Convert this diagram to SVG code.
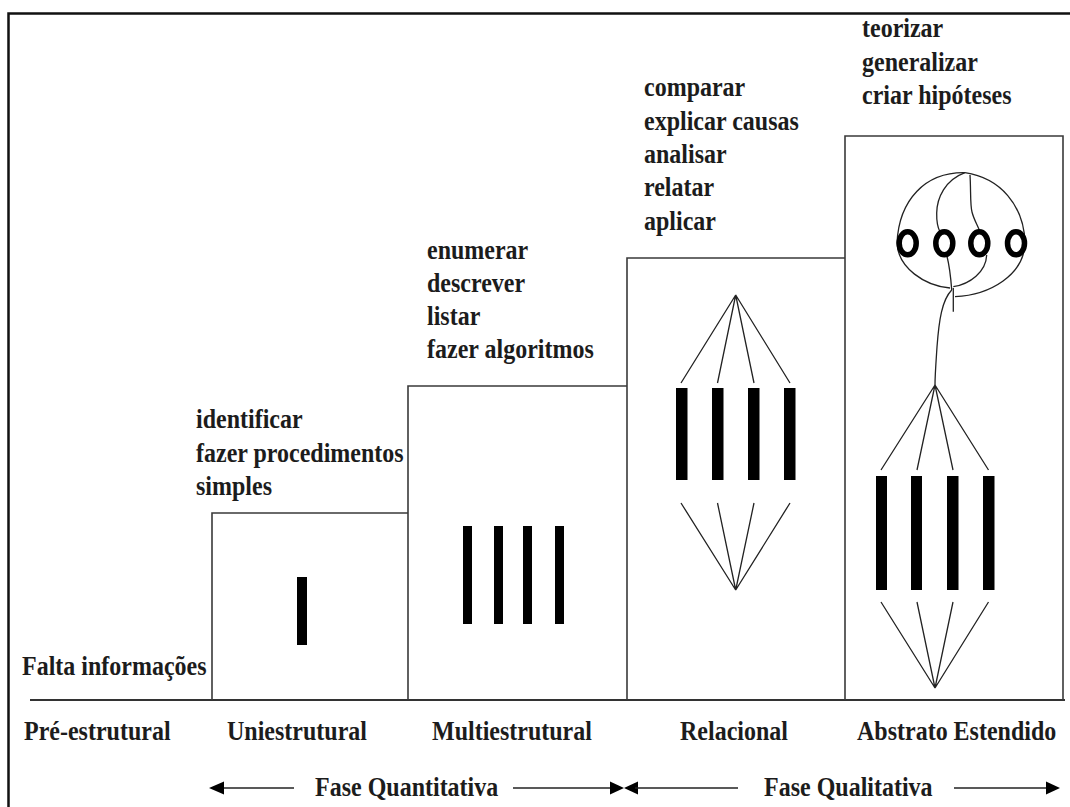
<svg xmlns="http://www.w3.org/2000/svg" width="1070" height="807" viewBox="0 0 1070 807">
<style>
text{font-family:"Liberation Serif","Times New Roman",serif;font-weight:bold;font-size:24px;fill:#1c1c1c}
.box{fill:none;stroke:#3a3a3a;stroke-width:1.6}
.bar{fill:#000}
.thin{fill:none;stroke:#222;stroke-width:1.3}
.ring{fill:none;stroke:#000;stroke-width:5.5}
.ax{stroke:#222;stroke-width:1.6;fill:none}
.ah{fill:#000}
</style>
<rect width="1070" height="807" fill="#fff"/>
<path d="M8.5,807 V13.5 H1070" fill="none" stroke="#111" stroke-width="2.5"/>

<g id="baseline"><line x1="30" y1="700" x2="1065" y2="700" stroke="#333" stroke-width="2"/></g>

<g id="pre-estrutural">
<text transform="translate(22,675) scale(1,1.1)">Falta informações</text>
<text transform="translate(24,740) scale(1,1.1)">Pré-estrutural</text>
</g>

<g id="uniestrutural">
<polyline class="box" points="212,700 212,513 408,513"/>
<rect class="bar" x="297" y="577" width="10" height="68"/>
<text transform="translate(196,428) scale(1,1.1)">identificar</text>
<text transform="translate(196,461.5) scale(1,1.1)">fazer procedimentos</text>
<text transform="translate(196,495) scale(1,1.1)">simples</text>
<text transform="translate(227,740) scale(1,1.1)">Uniestrutural</text>
</g>

<g id="multiestrutural">
<polyline class="box" points="408,700 408,386 627,386"/>
<rect class="bar" x="463" y="526" width="9" height="98"/>
<rect class="bar" x="494" y="526" width="9" height="98"/>
<rect class="bar" x="523" y="526" width="9" height="98"/>
<rect class="bar" x="555" y="526" width="9" height="98"/>
<text transform="translate(427,259) scale(1,1.1)">enumerar</text>
<text transform="translate(427,292) scale(1,1.1)">descrever</text>
<text transform="translate(427,325) scale(1,1.1)">listar</text>
<text transform="translate(427,358) scale(1,1.1)">fazer algoritmos</text>
<text transform="translate(432,740) scale(1,1.1)">Multiestrutural</text>
</g>

<g id="relacional">
<polyline class="box" points="627,700 627,258 845,258"/>
<rect class="bar" x="676" y="388" width="11.5" height="92"/>
<rect class="bar" x="712" y="388" width="11.5" height="92"/>
<rect class="bar" x="748" y="388" width="11.5" height="92"/>
<rect class="bar" x="784" y="388" width="11.5" height="92"/>
<path class="thin" d="M735.7,295 L681,383 M735.7,295 L717.5,383 M735.7,295 L754,383 M735.7,295 L790,383"/>
<path class="thin" d="M735.7,590 L681,503 M735.7,590 L717.5,503 M735.7,590 L754,503 M735.7,590 L790,503"/>
<text transform="translate(644,96) scale(1,1.1)">comparar</text>
<text transform="translate(644,129.5) scale(1,1.1)">explicar causas</text>
<text transform="translate(644,163) scale(1,1.1)">analisar</text>
<text transform="translate(644,196) scale(1,1.1)">relatar</text>
<text transform="translate(644,229.5) scale(1,1.1)">aplicar</text>
<text transform="translate(680,740) scale(1,1.1)">Relacional</text>
</g>

<g id="abstrato-estendido">
<polyline class="box" points="845,700 845,136 1063,136 1063,700"/>
<rect class="bar" x="876" y="476" width="11" height="114"/>
<rect class="bar" x="911" y="476" width="11" height="114"/>
<rect class="bar" x="947" y="476" width="11.5" height="114"/>
<rect class="bar" x="983" y="476" width="11.5" height="114"/>
<path class="thin" d="M935,385 L881,470 M935,385 L917,470 M935,385 L953,470 M935,385 L988.5,470"/>
<path class="thin" d="M935,688 L881,602 M935,688 L917,602 M935,688 L953,602 M935,688 L988.5,602"/>
<g id="head">
<path class="thin" d="M965,172.7 C925,172 899,200 897,243 C898,268 925,286 950,288"/>
<path class="thin" d="M965,172.7 C1000,178 1024,205 1025,243 C1024,275 990,295 955,296.7"/>
<path class="thin" d="M953.3,288 L953.3,311.7"/>
<path class="thin" d="M965,172.7 C945,180 937,198 936.7,213 C936.5,222 938,228 940,232"/>
<path class="thin" d="M946.7,255 C950,268 951,280 951.7,290"/>
<path class="thin" d="M970,175 C971,190 970,205 972,212 C974,220 978,226 980,232"/>
<path class="thin" d="M986.7,255 C986,272 970,284 953.3,286.7"/>
<path class="thin" d="M951.7,290 C942,300 939,320 937,347 C936,362 935,375 935,385"/>
<ellipse class="ring" cx="907.7" cy="243.3" rx="8.5" ry="11.5"/>
<ellipse class="ring" cx="944.3" cy="243.3" rx="8.5" ry="11.5"/>
<ellipse class="ring" cx="979.3" cy="243.3" rx="8.5" ry="11.5"/>
<ellipse class="ring" cx="1016" cy="243.3" rx="8.5" ry="11.5"/>
</g>
<text transform="translate(862,37) scale(1,1.1)">teorizar</text>
<text transform="translate(862,70.5) scale(1,1.1)">generalizar</text>
<text transform="translate(862,104) scale(1,1.1)">criar hipóteses</text>
<text transform="translate(857,740) scale(1,1.1)">Abstrato Estendido</text>
</g>

<g id="connectors">
<line class="ax" x1="222" y1="788" x2="294" y2="788"/>
<polygon class="ah" points="209,788 224,781.5 224,794.5"/>
<line class="ax" x1="513" y1="788" x2="613" y2="788"/>
<polygon class="ah" points="624,788 610,781.5 610,794.5"/>
<polygon class="ah" points="624,788 638,781.5 638,794.5"/>
<line class="ax" x1="635" y1="788" x2="738" y2="788"/>
<line class="ax" x1="954" y1="788" x2="1049" y2="788"/>
<polygon class="ah" points="1060,788 1046,781.5 1046,794.5"/>
</g>
<g id="phases">
<text transform="translate(315,796) scale(1,1.1)">Fase Quantitativa</text>
<text transform="translate(764,796) scale(1,1.1)">Fase Qualitativa</text>
</g>
</svg>
